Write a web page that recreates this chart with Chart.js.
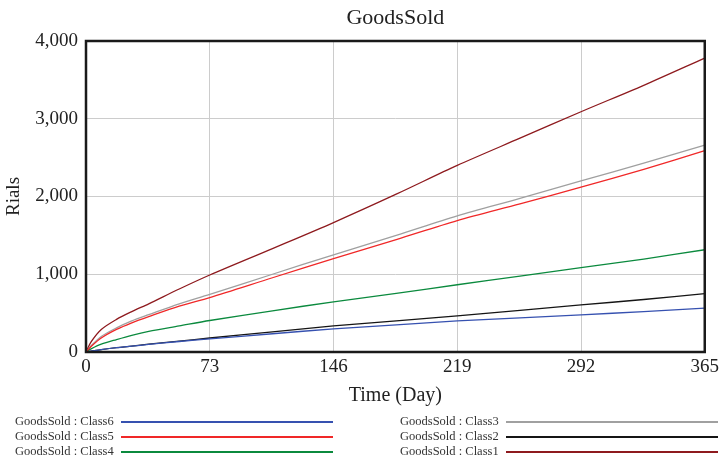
<!DOCTYPE html>
<html>
<head>
<meta charset="utf-8">
<script src="https://cdn.jsdelivr.net/npm/chart.js@4"></script>
<style>
  body { margin: 0; background: #fff; }
  #wrap { position: relative; width: 723px; height: 463px; }
  #legend { position: absolute; left: 0; top: 414px; width: 723px; font-family: "Liberation Serif", serif; font-size: 12.5px; color: #333; }
  .item { position: absolute; height: 15px; line-height: 15px; white-space: nowrap; }
  .item .line { position: absolute; top: 7px; height: 1.5px; }
</style>
</head>
<body>
<div id="wrap">
  <canvas id="goodsChart" width="723" height="463"></canvas>
  <div id="legend"></div>
</div>
<script>
// day of the simulation
const days = [0, 3, 9, 18, 27, 37, 55, 73, 110, 146, 183, 219, 256, 292, 329, 365];

// GoodsSold per class (Rials)
const class1 = [0, 130, 290, 420, 520, 620, 810, 990, 1330, 1665, 2030, 2400, 2750, 3090, 3430, 3780];
const class2 = [0, 10, 30, 55, 75, 100, 140, 180, 260, 335, 400, 465, 535, 605, 675, 750];
const class3 = [0, 80, 200, 310, 400, 480, 620, 740, 1000, 1250, 1500, 1750, 1975, 2200, 2430, 2660];
const class4 = [0, 40, 100, 160, 215, 265, 335, 405, 530, 645, 755, 865, 975, 1085, 1195, 1315];
const class5 = [0, 70, 180, 290, 375, 455, 590, 700, 955, 1200, 1445, 1690, 1905, 2120, 2350, 2590];
const class6 = [0, 10, 30, 55, 75, 97, 135, 168, 235, 297, 350, 400, 440, 478, 520, 565];

const xTicks = [0, 73, 146, 219, 292, 365];
const yTicks = [0, 1000, 2000, 3000, 4000];

const series = [
    { label: 'GoodsSold : Class6', data: class6, color: '#3651b0' },
    { label: 'GoodsSold : Class5', data: class5, color: '#f02828' },
    { label: 'GoodsSold : Class4', data: class4, color: '#0b8a3e' },
    { label: 'GoodsSold : Class3', data: class3, color: '#a0a0a0' },
    { label: 'GoodsSold : Class2', data: class2, color: '#151515' },
    { label: 'GoodsSold : Class1', data: class1, color: '#8e1a1e' }
];

const chartTitle = 'GoodsSold';
const serif = '"Liberation Serif", "Times New Roman", serif';

// frame around the plot area, and the title centred over it
const framePlugin = {
    id: 'frame',
    afterDraw(chart) {
        const a = chart.chartArea;
        const ctx = chart.ctx;
        ctx.save();
        ctx.strokeStyle = '#1a1a1a';
        ctx.lineWidth = 2.5;
        ctx.strokeRect(a.left, a.top, a.right - a.left, a.bottom - a.top);
        ctx.fillStyle = '#222';
        ctx.font = '22px ' + serif;
        ctx.textAlign = 'center';
        ctx.textBaseline = 'middle';
        ctx.fillText(chartTitle, (a.left + a.right) / 2, 18);
        ctx.restore();
    }
};

const ctx = document.getElementById('goodsChart').getContext('2d');
new Chart(ctx, {
    type: 'line',
    data: {
        datasets: series.map(s => ({
            label: s.label,
            data: days.map((d, i) => ({ x: d, y: s.data[i] })),
            borderColor: s.color,
            borderWidth: 1.3,
            pointRadius: 0,
            tension: 0.3,
            fill: false
        }))
    },
    options: {
        responsive: false,
        animation: false,
        layout: { padding: { left: 0, right: 14, top: 41, bottom: 51 } },
        scales: {
            x: {
                type: 'linear',
                min: 0,
                max: 365,
                afterBuildTicks: axis => { axis.ticks = xTicks.map(v => ({ value: v })); },
                afterFit: axis => { axis.height = 60; },
                grid: { color: '#cccccc', lineWidth: 1, drawTicks: false },
                border: { display: false },
                ticks: { color: '#222', font: { family: serif, size: 19 }, padding: 4 },
                title: { display: true, text: 'Time (Day)', color: '#222', font: { family: serif, size: 20 }, padding: { top: 0 } }
            },
            y: {
                min: 0,
                max: 4000,
                afterBuildTicks: axis => { axis.ticks = yTicks.map(v => ({ value: v })); },
                afterFit: axis => { axis.width = 86; },
                grid: { color: '#cccccc', lineWidth: 1, drawTicks: false },
                border: { display: false },
                ticks: {
                    color: '#222',
                    font: { family: serif, size: 19 },
                    padding: 8,
                    callback: v => v.toLocaleString('en-US')
                },
                title: { display: true, text: 'Rials', color: '#222', font: { family: serif, size: 19 }, padding: { top: 3, bottom: 0 } }
            }
        },
        plugins: {
            legend: { display: false },
            tooltip: { enabled: false },
            title: { display: false }
        }
    },
    plugins: [framePlugin]
});

// legend: two columns of three, text followed by a line
const legend = document.getElementById('legend');
series.forEach((s, i) => {
    const col = i < 3 ? 0 : 1;
    const row = i % 3;
    const item = document.createElement('div');
    item.className = 'item';
    item.style.left = (col ? 400 : 15) + 'px';
    item.style.top = (row * 15) + 'px';
    item.textContent = s.label;
    const line = document.createElement('div');
    line.className = 'line';
    line.style.left = '106px';
    line.style.width = '212px';
    line.style.background = s.color;
    item.appendChild(line);
    legend.appendChild(item);
});
</script>
</body>
</html>
